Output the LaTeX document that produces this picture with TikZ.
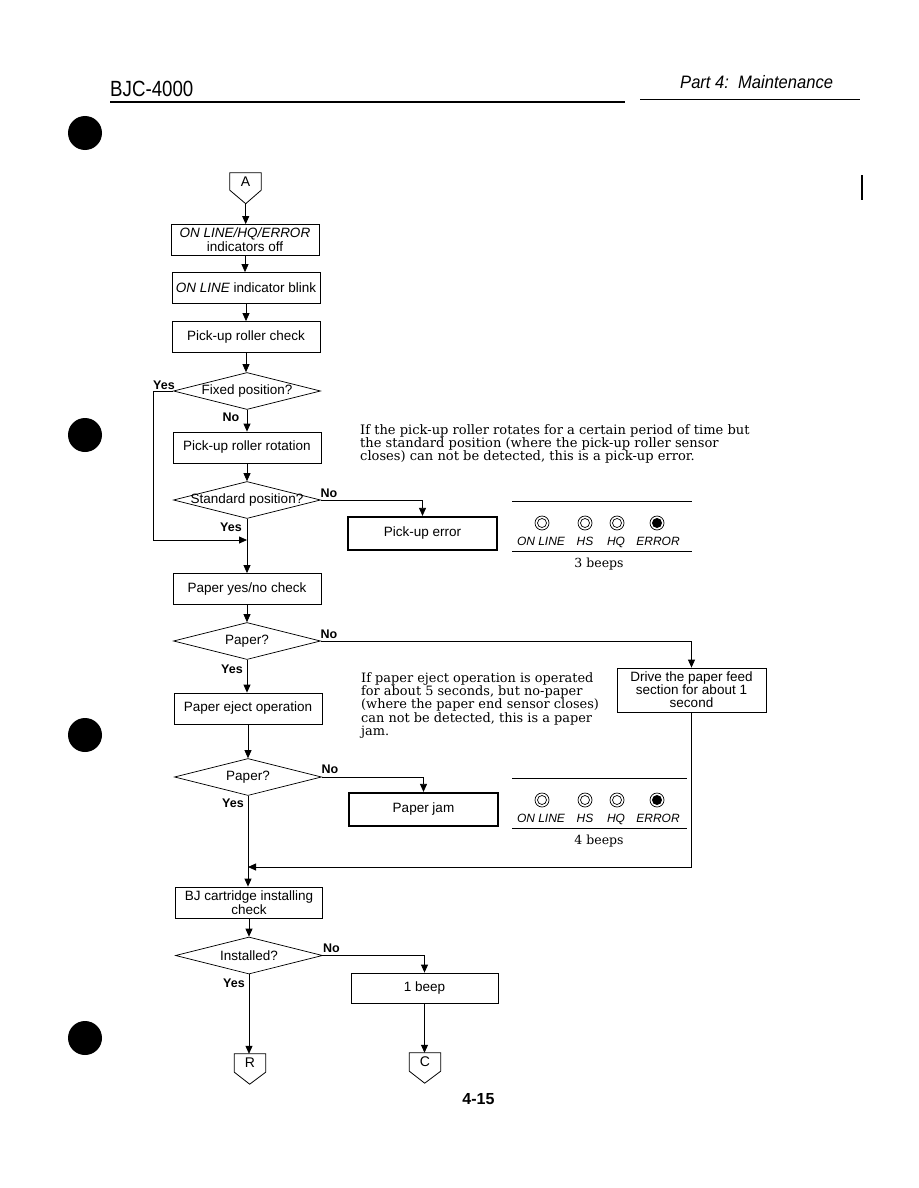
\documentclass[tikz,border=0pt]{standalone}
\usepackage{fontspec}
\setmainfont{Liberation Sans}
\newfontfamily\parafont{DejaVu Serif}
\usetikzlibrary{shapes.geometric,arrows.meta}
\newcommand\bxfont{\fontsize{13.5}{14}\selectfont}
\newcommand\ledfont{\fontsize{12}{12}\selectfont\itshape}
\begin{document}
\begin{tikzpicture}[x=1pt,y=-1pt,
  ln/.style={line width=0.8pt},
  box/.style={draw, line width=0.8pt, rectangle, minimum width=148pt, minimum height=31pt, inner sep=1pt, align=center, font=\bxfont},
  errbox/.style={box, line width=2.2pt, minimum width=149pt, minimum height=33pt},
  dia/.style={draw, diamond, line width=0.7pt, minimum width=147pt, minimum height=37pt, inner sep=0pt, font=\bxfont},
  yn/.style={inner sep=0pt, font=\fontsize{12.5}{13}\selectfont\bfseries},
  arr/.style={line width=0.8pt, -{Triangle[length=8pt,width=7pt]}},
  conn/.style={minimum width=31pt, minimum height=17pt, inner sep=0pt, font=\fontsize{14}{14}\selectfont},
  para/.style={anchor=north west, align=left, inner sep=0pt},
  led/.style={inner sep=0pt, anchor=base, font=\ledfont},
  beeps/.style={inner sep=0pt, font=\parafont\fontsize{12.5}{12.5}\selectfont}
]
\useasboundingbox (0,0) rectangle (918,1188);
\fill[white] (0,0) rectangle (918,1188);

% header
\node[anchor=base west, inner sep=0pt, font=\fontsize{22}{22}\selectfont] (hdrL) at (110,97) {\scalebox{0.85}[1]{BJC-4000}};
\node[anchor=base west, inner sep=0pt, font=\fontsize{18}{18}\selectfont\itshape] (hdrR) at (680,89) {\scalebox{0.92}[1]{Part 4:\ \ Maintenance}};
\draw[line width=2pt] (110,102.5) -- (625,102.5);
\draw[line width=1.4pt] (640,99.5) -- (860,99.5);
\draw[line width=1.2pt] (862,175) -- (862,200);

% binder holes
\foreach \yy in {133,435,735,1038} \fill (85,\yy) circle (17);

% flowchart nodes
\node[conn] (A) at (245.5,181.5) {A};
\draw[ln] (A.north west) -- (A.north east) -- (A.south east) -- ++(-15.5,13.5) coordinate (Atip) -- (A.south west) -- cycle;

\node[box] (b1) at (245,240) {\textit{ON LINE/HQ/ERROR}\\indicators off};
\node[box] (b2) at (246,288) {\textit{ON LINE} indicator blink};
\node[box] (b3) at (246,337) {Pick-up roller check};
\node[dia] (d1) at (247,391) {\makebox[0pt]{Fixed position?}};
\node[box] (b4) at (247,447.5) {Pick-up roller rotation};
\node[dia] (d2) at (247,500) {\makebox[0pt]{Standard position?}};
\node[errbox] (perr) at (422.5,533.5) {Pick-up error};
\coordinate (j1) at (247,540);
\node[box] (b5) at (247,589) {Paper yes/no check};
\node[dia] (d3) at (247,641) {\makebox[0pt]{Paper?}};
\node[box, minimum width=149pt, minimum height=44pt, font=\fontsize{13.5}{13}\selectfont] (drive) at (691.5,690) {Drive the paper feed\\section for about 1\\second};
\node[box] (b6) at (248,708.5) {Paper eject operation};
\node[dia] (d4) at (248,777) {\makebox[0pt]{Paper?}};
\node[errbox] (pjam) at (423.5,809.5) {Paper jam};
\coordinate (j2) at (248,867);
\node[box, minimum width=147pt, font=\fontsize{13.5}{12.5}\selectfont] (b7) at (249,902.5) {BJ cartridge installing\\check};
\node[dia] (d5) at (249,955.5) {\makebox[0pt]{Installed?}};
\node[box, minimum width=147pt, minimum height=30pt] (beep) at (424.5,988) {1 beep};

\node[conn, minimum height=18pt] (R) at (250,1063) {R};
\draw[ln] (R.north west) -- (R.north east) -- (R.south east) -- ++(-16,12) coordinate (Rtip) -- (R.south west) -- cycle;
\node[conn, minimum height=18pt] (C) at (425,1062) {C};
\draw[ln] (C.north west) -- (C.north east) -- (C.south east) -- ++(-16,12) coordinate (Ctip) -- (C.south west) -- cycle;

% connectors
\draw[arr] (Atip) -- (Atip |- b1.north);
\draw[arr] (b1.south) -- (b1.south |- b2.north);
\draw[arr] (b2.south) -- (b2.south |- b3.north);
\draw[arr] (b3.south) -- (b3.south |- d1.north);
\draw[arr] (d1.south) -- (d1.south |- b4.north);
\draw[arr] (b4.south) -- (b4.south |- d2.north);
\draw[arr] (d1.west) -- ++(-20,0) |- (j1);
\draw[arr] (d2.east) -| (perr.north);
\draw[arr] (d2.south) -- (d2.south |- b5.north);
\draw[arr] (b5.south) -- (b5.south |- d3.north);
\draw[arr] (d3.east) -| (drive.north);
\draw[arr] (d3.south) -- (d3.south |- b6.north);
\draw[arr] (b6.south) -- (b6.south |- d4.north);
\draw[arr] (d4.east) -| (pjam.north);
\draw[arr] (d4.south) -- (d4.south |- b7.north);
\draw[arr] (drive.south) |- (j2);
\draw[arr] (b7.south) -- (b7.south |- d5.north);
\draw[arr] (d5.east) -| (beep.north);
\draw[arr] (d5.south) -- (d5.south |- R.north);
\draw[arr] (beep.south) -- (beep.south |- C.north);

% yes / no labels
\node[yn] (y1) at (164,385) {Yes};
\node[yn] (n1) at (231,417) {No};
\node[yn] (n2) at (329,493) {No};
\node[yn] (y2) at (231,527) {Yes};
\node[yn] (n3) at (329,634) {No};
\node[yn] (y3) at (232,669) {Yes};
\node[yn] (n4) at (330,769) {No};
\node[yn] (y4) at (233,803) {Yes};
\node[yn] (n5) at (331.5,948) {No};
\node[yn] (y5) at (234,983) {Yes};

% explanatory paragraphs
\node[para, font=\parafont\fontsize{13.05}{13.2}\selectfont] (p1) at (360,424)
 {If the pick-up roller rotates for a certain period of time but\\
  the standard position (where the pick-up roller sensor\\
  closes) can not be detected, this is a pick-up error.};
\node[para, font=\parafont\fontsize{12.9}{13.4}\selectfont] (p2) at (361,672)
 {If paper eject operation is operated\\
  for about 5 seconds, but no-paper\\
  (where the paper end sensor closes)\\
  can not be detected, this is a paper\\
  jam.};

% indicator panels
\foreach \T/\R/\B/\nm in {501/692/3 beeps/pa, 778/687/4 beeps/pb} {
  \draw[line width=0.8pt] (512,\T) -- (\R,\T);
  \draw[line width=0.8pt] (512,\T+50) -- (\R,\T+50);
  \foreach \cx in {542,585,617} {
    \draw[line width=0.7pt] (\cx,\T+22) circle (7);
    \draw[line width=0.7pt] (\cx,\T+22) circle (4.5);
  }
  \draw[line width=0.7pt] (657,\T+22) circle (7);
  \fill (657,\T+22) circle (5);
  \node[led] (\nm on) at (541,\T+44) {ON LINE};
  \node[led] (\nm hs) at (585,\T+44) {HS};
  \node[led] (\nm hq) at (616,\T+44) {HQ};
  \node[led] (\nm er) at (658,\T+44) {ERROR};
  \node[beeps] (\nm bp) at (599,\T+63) {\B};
}

% page number
\node[inner sep=0pt, font=\fontsize{16}{16}\selectfont\bfseries] (pg) at (478.5,1099) {4-15};
\end{tikzpicture}
\end{document}
